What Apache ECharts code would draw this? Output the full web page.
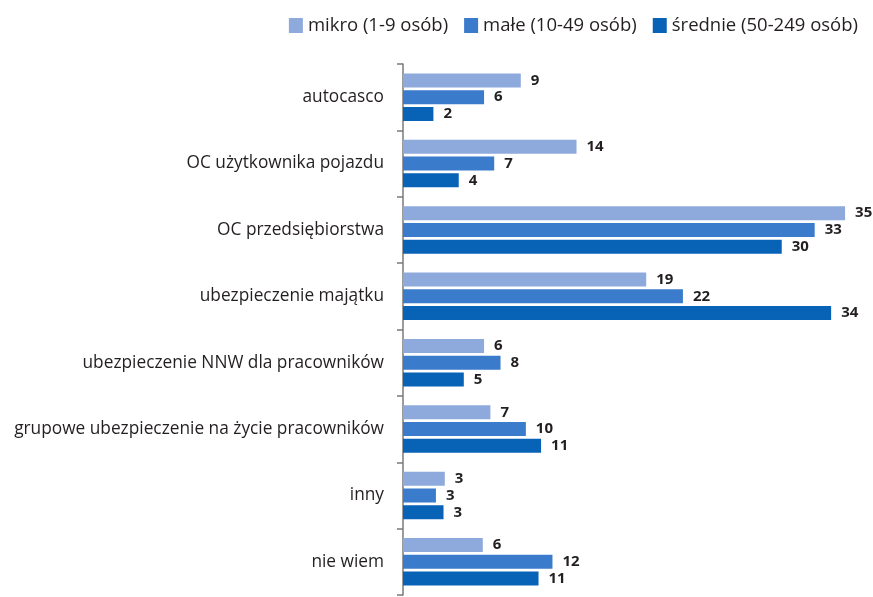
<!DOCTYPE html>
<html>
<head>
<meta charset="utf-8">
<script src="https://cdn.jsdelivr.net/npm/echarts@6/dist/echarts.min.js"></script>
<style>
  html, body { margin: 0; padding: 0; background: #fff; }
  #chart { width: 873px; height: 597px; }
</style>
</head>
<body>
<div id="chart"></div>
<script>
// categories top to bottom
const categories = [
  'autocasco',
  'OC użytkownika pojazdu',
  'OC przedsiębiorstwa',
  'ubezpieczenie majątku',
  'ubezpieczenie NNW dla pracowników',
  'grupowe ubezpieczenie na życie pracowników',
  'inny',
  'nie wiem'
]
const seriesNames = ['mikro (1-9 osób)', 'małe (10-49 osób)', 'średnie (50-249 osób)']
// bar lengths (labels show rounded values)
const mikro = [9.3, 13.7, 34.9, 19.2, 6.4, 6.9, 3.3, 6.3]
const male = [6.4, 7.2, 32.5, 22.1, 7.7, 9.7, 2.6, 11.8]
const srednie = [2.4, 4.4, 29.9, 33.8, 4.8, 10.9, 3.2, 10.7]
const colors = ['#8eaadd', '#3b7bcb', '#0862b6']

const chart = echarts.init(document.getElementById('chart'))

function makeSeries (name, data, color) {
  return {
    name: name,
    type: 'bar',
    data: data,
    barWidth: 14,
    barGap: '20%',
    itemStyle: { color: color },
    label: {
      show: true,
      position: 'right',
      distance: 10,
      fontFamily: 'Open Sans',
      fontWeight: 'bold',
      fontSize: 15,
      color: '#231f20',
      formatter: (p) => Math.round(p.value)
    }
  }
}

chart.setOption({
  animation: false,
  textStyle: { fontFamily: 'Open Sans' },
  legend: {
    right: 10,
    top: 11,
    itemWidth: 14,
    itemHeight: 15,
    itemGap: 16,
    icon: 'rect',
    textStyle: { fontSize: 18.5, color: '#231f20', fontFamily: 'Open Sans' }
  },
  grid: { left: 403, right: 14, top: 64, bottom: 2, containLabel: false },
  xAxis: {
    type: 'value',
    min: 0,
    max: 36,
    show: false
  },
  yAxis: {
    type: 'category',
    data: categories,
    inverse: true,
    axisLine: { lineStyle: { color: '#7a7a7a', width: 1.5 } },
    axisTick: { show: true, length: 6, lineStyle: { color: '#7a7a7a', width: 1.5 } },
    axisLabel: { fontSize: 17.3, color: '#231f20', margin: 19, fontFamily: 'Open Sans' }
  },
  series: [
    makeSeries(seriesNames[0], mikro, colors[0]),
    makeSeries(seriesNames[1], male, colors[1]),
    makeSeries(seriesNames[2], srednie, colors[2])
  ]
})
</script>
</body>
</html>
